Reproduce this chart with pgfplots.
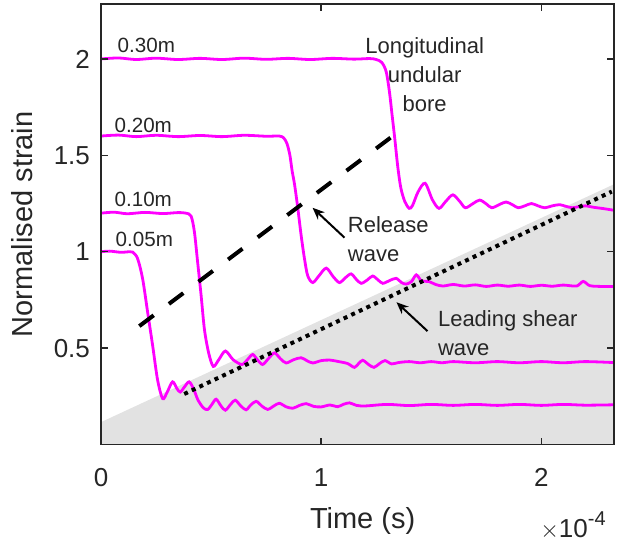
\documentclass[border=0pt]{standalone}
\usepackage{fontspec}
\setmainfont{Liberation Sans}
\usepackage{pgfplots}
\pgfplotsset{compat=1.18}
\usetikzlibrary{arrows.meta}
\definecolor{axc}{RGB}{38,38,38}
\definecolor{mag}{RGB}{255,0,255}
\definecolor{shade}{RGB}{226,226,226}
\begin{document}
\begin{tikzpicture}
\begin{axis}[
  name=ax,
  scale only axis, width=256.5pt, height=220.25pt,
  xmin=0, xmax=2.33, ymin=0, ymax=2.285,
  xtick={0,1,2}, ytick={0.5,1,1.5,2},
  tick align=inside, major tick length=3.5pt,
  axis on top,
  axis line style={axc, line width=0.75pt},
  every tick/.style={axc, line width=0.75pt},
  /pgf/number format/assume math mode=true,
  ticklabel style={font=\fontsize{13}{15}\selectfont, text=axc},
  xticklabel style={yshift=-8.5pt},
  yticklabel style={xshift=-2pt},
  xlabel={Time (s)}, ylabel={Normalised strain},
  label style={font=\fontsize{14.5}{17}\selectfont, text=axc},
  xlabel style={at={(axis description cs:0.51,-0.173)}, anchor=center},
  ylabel style={at={(axis description cs:-0.154,0.5)}, anchor=center},
]
\addplot[fill=shade, draw=none] coordinates {(0,0.116) (2.33,1.35)} \closedcycle;

\addplot[mag, line width=1.4pt, smooth, tension=0.5] coordinates {
(0,2.0) (0.08,2.005) (0.16,1.997) (0.25,2.004) (0.35,1.997) (0.45,2.003) (0.55,1.997) (0.65,2.004) (0.75,1.998) (0.85,2.003) (0.95,1.997) (1.05,2.003) (1.15,1.999) (1.22,2.002) (1.25,1.997) (1.275,1.982) (1.295,1.935) (1.31,1.83) (1.322,1.71) (1.334,1.59) (1.348,1.44) (1.362,1.33) (1.38,1.26) (1.40,1.225) (1.415,1.24) (1.44,1.31) (1.472,1.355) (1.505,1.27) (1.535,1.225) (1.565,1.26) (1.598,1.295) (1.63,1.26) (1.655,1.228) (1.69,1.25) (1.72,1.268) (1.75,1.248) (1.775,1.228) (1.81,1.245) (1.84,1.258) (1.87,1.243) (1.895,1.228) (1.925,1.238) (1.955,1.25) (1.985,1.238) (2.015,1.228) (2.05,1.238) (2.083,1.244) (2.11,1.236) (2.14,1.228) (2.17,1.234) (2.20,1.238) (2.24,1.23) (2.28,1.224) (2.33,1.215)};

\addplot[mag, line width=1.4pt, smooth, tension=0.5] coordinates {
(0,1.6) (0.08,1.605) (0.16,1.597) (0.25,1.604) (0.35,1.597) (0.45,1.603) (0.55,1.597) (0.65,1.604) (0.75,1.599) (0.81,1.6) (0.83,1.59) (0.845,1.56) (0.858,1.5) (0.868,1.42) (0.879,1.35) (0.894,1.225) (0.909,1.085) (0.924,0.965) (0.939,0.875) (0.962,0.84) (0.99,0.875) (1.023,0.915) (1.055,0.87) (1.083,0.84) (1.11,0.865) (1.136,0.885) (1.16,0.856) (1.182,0.836) (1.21,0.854) (1.234,0.874) (1.26,0.852) (1.28,0.836) (1.31,0.85) (1.34,0.862) (1.365,0.84) (1.386,0.832) (1.41,0.845) (1.432,0.88) (1.455,0.85) (1.49,0.845) (1.52,0.83) (1.553,0.822) (1.6,0.83) (1.65,0.822) (1.7,0.828) (1.75,0.82) (1.8,0.827) (1.85,0.821) (1.9,0.827) (1.95,0.82) (2.0,0.826) (2.05,0.821) (2.1,0.827) (2.16,0.822) (2.19,0.846) (2.22,0.824) (2.27,0.82) (2.33,0.82)};

\addplot[mag, line width=1.4pt, smooth, tension=0.5] coordinates {
(0,1.2) (0.06,1.205) (0.12,1.197) (0.2,1.204) (0.28,1.198) (0.35,1.203) (0.386,1.2) (0.409,1.185) (0.424,1.105) (0.439,0.945) (0.455,0.77) (0.47,0.595) (0.489,0.475) (0.51,0.405) (0.535,0.44) (0.565,0.485) (0.6,0.44) (0.64,0.415) (0.665,0.44) (0.689,0.467) (0.71,0.44) (0.734,0.415) (0.76,0.445) (0.788,0.475) (0.815,0.445) (0.841,0.423) (0.875,0.44) (0.909,0.45) (0.935,0.435) (0.962,0.423) (1.0,0.435) (1.038,0.438) (1.08,0.43) (1.12,0.42) (1.151,0.4) (1.17,0.42) (1.189,0.437) (1.215,0.415) (1.24,0.4) (1.265,0.42) (1.29,0.435) (1.32,0.418) (1.35,0.425) (1.4,0.43) (1.45,0.424) (1.5,0.43) (1.55,0.424) (1.6,0.43) (1.7,0.424) (1.8,0.43) (1.9,0.424) (2.0,0.43) (2.1,0.424) (2.2,0.43) (2.33,0.425)};

\addplot[mag, line width=1.4pt, smooth, tension=0.5] coordinates {
(0,1.0) (0.04,1.003) (0.09,0.997) (0.13,1.0) (0.144,0.998) (0.166,0.965) (0.189,0.86) (0.212,0.685) (0.235,0.51) (0.257,0.335) (0.28,0.238) (0.3,0.27) (0.325,0.325) (0.345,0.29) (0.36,0.272) (0.38,0.3) (0.4,0.325) (0.42,0.29) (0.44,0.232) (0.465,0.19) (0.485,0.182) (0.505,0.21) (0.523,0.235) (0.545,0.2) (0.565,0.178) (0.59,0.21) (0.61,0.23) (0.635,0.2) (0.659,0.18) (0.68,0.205) (0.705,0.224) (0.73,0.2) (0.757,0.182) (0.785,0.2) (0.81,0.214) (0.84,0.196) (0.871,0.188) (0.9,0.202) (0.932,0.212) (0.965,0.198) (1.0,0.195) (1.04,0.205) (1.075,0.196) (1.1,0.208) (1.129,0.216) (1.16,0.203) (1.2,0.2) (1.3,0.208) (1.4,0.202) (1.5,0.208) (1.6,0.203) (1.7,0.208) (1.8,0.203) (1.9,0.208) (2.0,0.203) (2.1,0.208) (2.2,0.204) (2.33,0.206)};

\addplot[black, line width=2pt, dash pattern=on 9pt off 9.5pt] coordinates {(0.174,0.614) (1.333,1.607)};
\addplot[black, line width=2pt, dash pattern=on 2pt off 2.2pt] coordinates {(0.378,0.262) (2.32,1.312)};

\draw[black, line width=1pt, -{Stealth[length=6pt,width=5pt]}] (axis cs:1.106,1.073) -- (axis cs:0.961,1.228);
\draw[black, line width=1pt, -{Stealth[length=6pt,width=5pt]}] (axis cs:1.483,0.588) -- (axis cs:1.342,0.738);

\begin{scope}[every node/.style={font=\fontsize{10.3}{14.5}\selectfont, text=axc, inner sep=0pt}]
\node at (axis cs:0.206,2.068) {0.30m};
\node at (axis cs:0.192,1.654) {0.20m};
\node at (axis cs:0.192,1.27) {0.10m};
\node at (axis cs:0.197,1.063) {0.05m};
\end{scope}
\begin{scope}[every node/.style={font=\fontsize{11}{14.5}\selectfont, text=axc, inner sep=0pt}]
\node[align=center] at (axis cs:1.47,1.92) {Longitudinal\\undular\\bore};
\node[align=left, anchor=west] at (axis cs:1.12,1.063) {Release\\wave};
\node[align=left, anchor=west] at (axis cs:1.529,0.578) {Leading shear\\wave};
\end{scope}
\end{axis}
\node[text=axc, inner sep=0pt] at (236pt,-40.5pt) {\fontsize{13}{15}\selectfont $\times$10\raisebox{0.45em}{\fontsize{10}{12}\selectfont -4}};
\pgfresetboundingbox
\useasboundingbox (-50.5pt,-48.75pt) rectangle (260pt,222.25pt);
\end{tikzpicture}
\end{document}
